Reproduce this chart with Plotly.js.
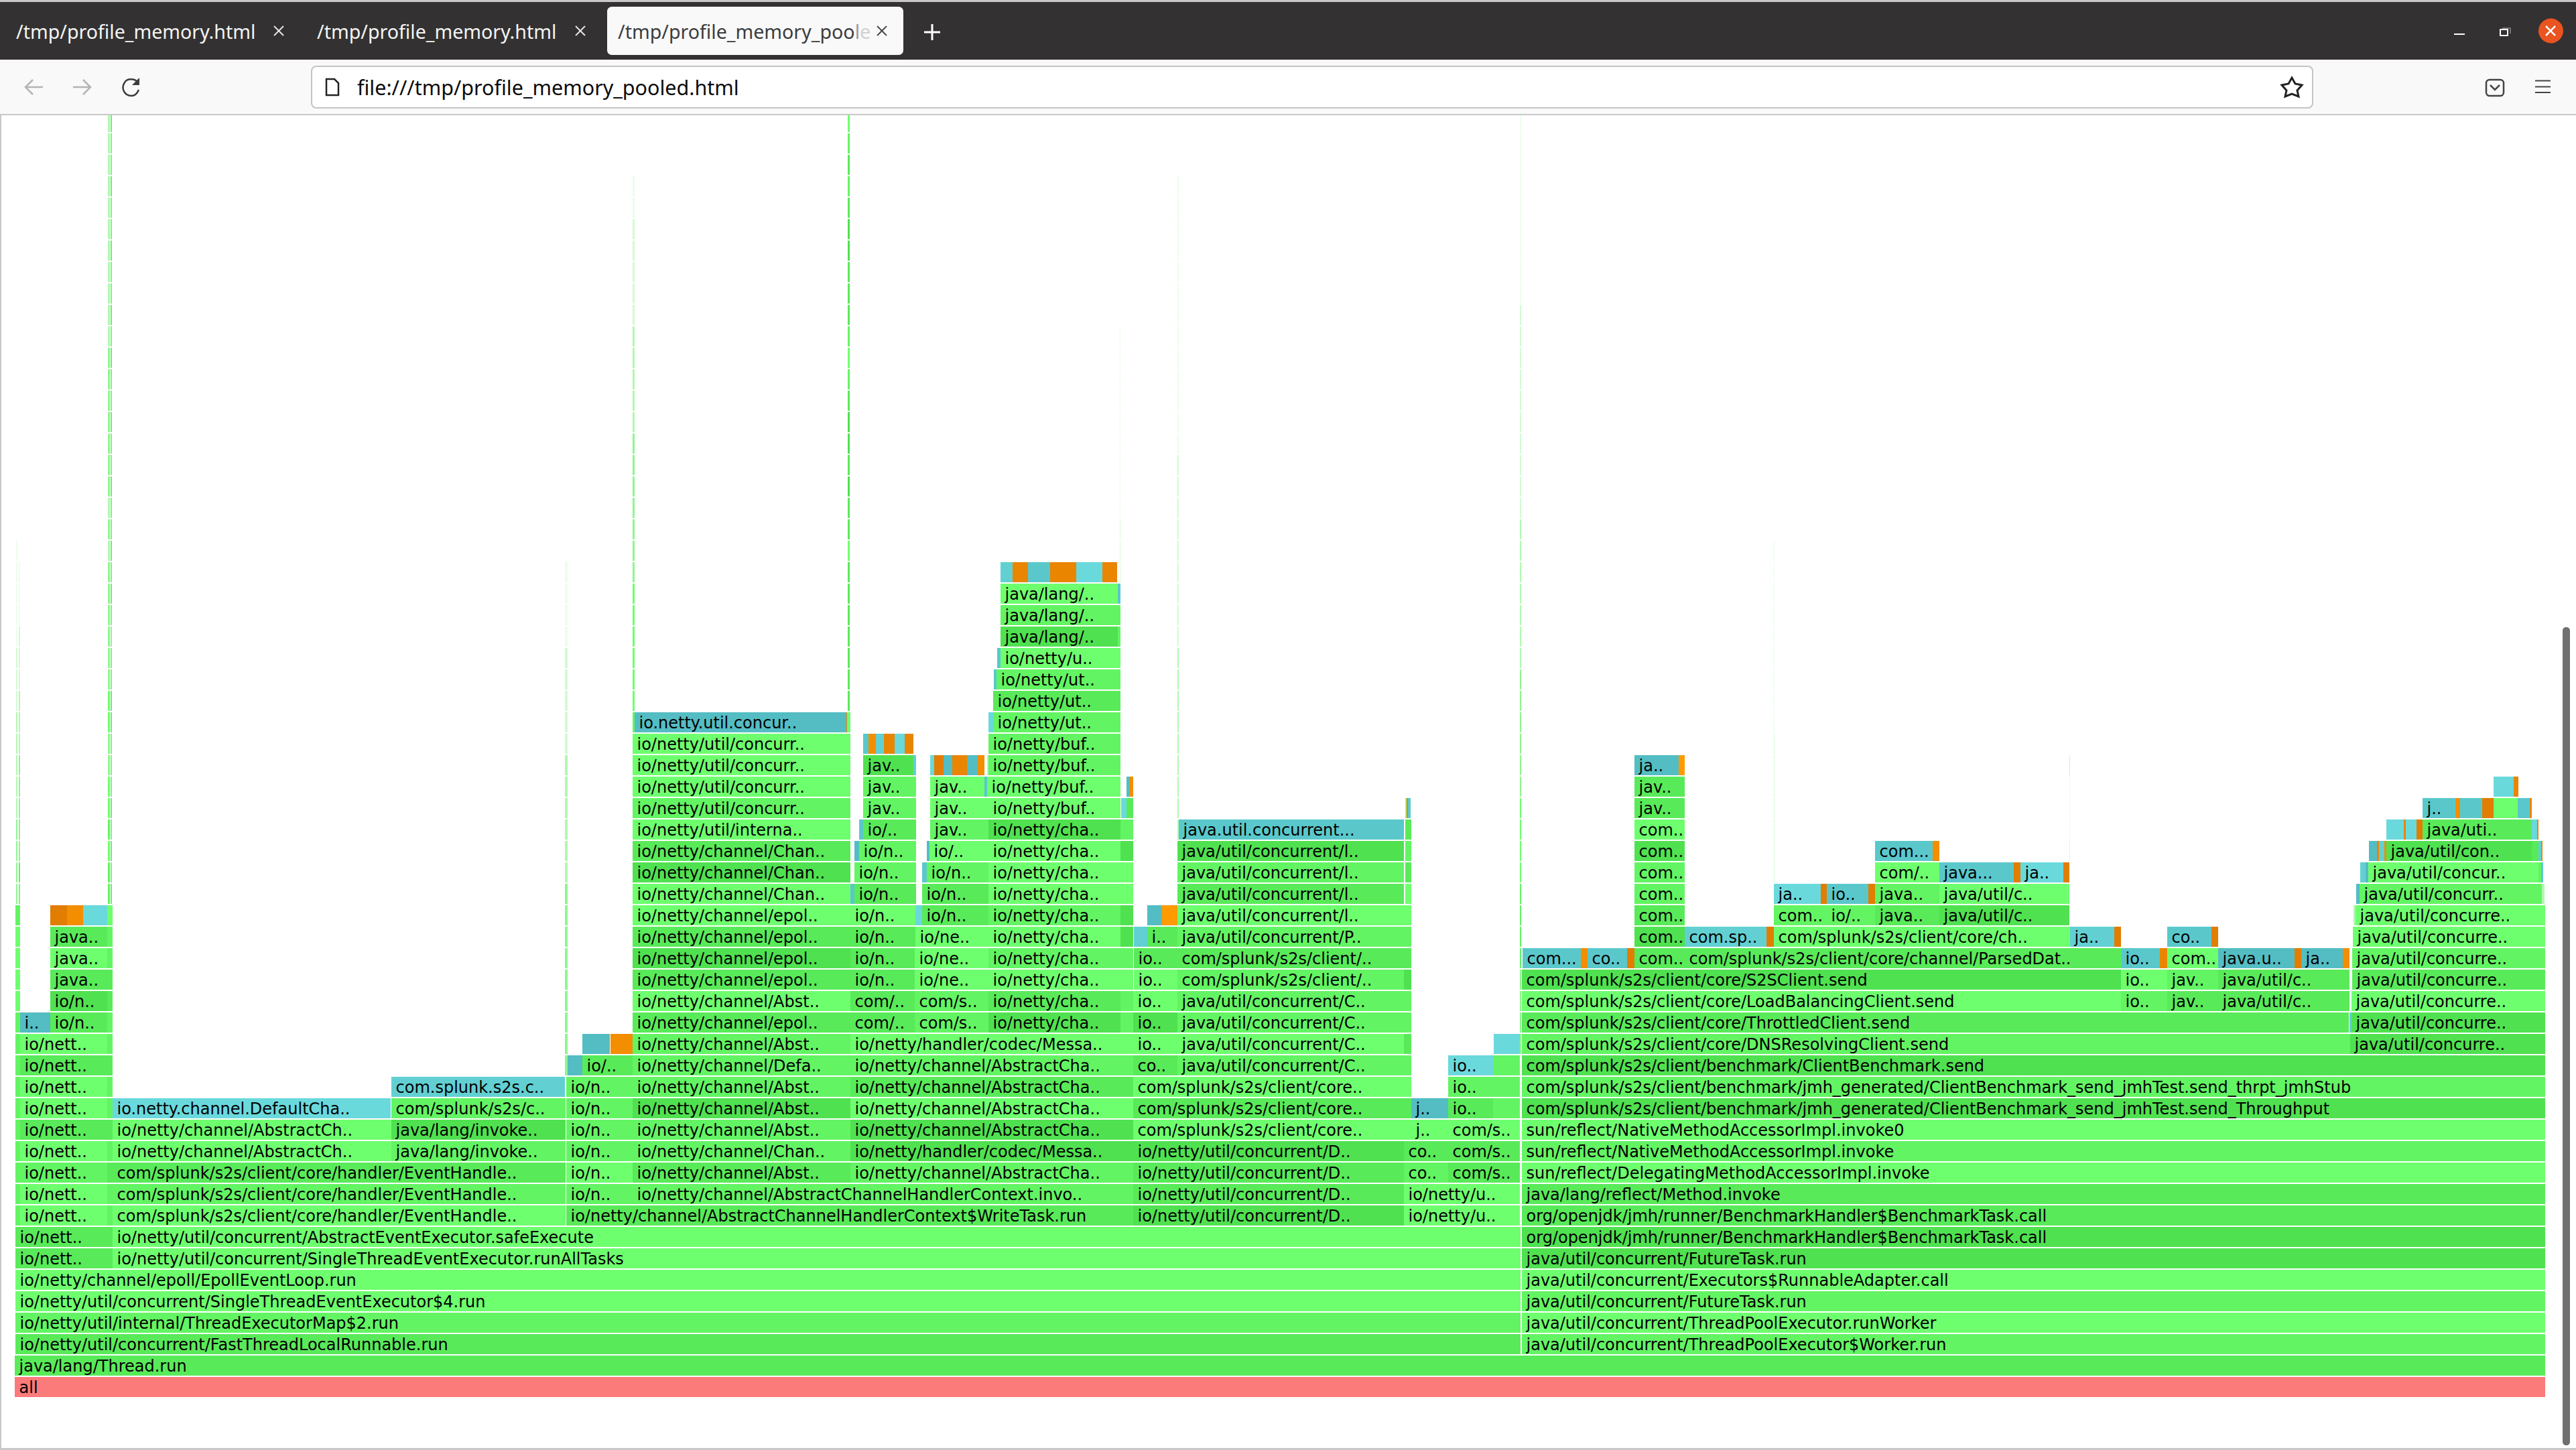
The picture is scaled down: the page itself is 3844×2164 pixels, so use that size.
<!DOCTYPE html>
<html>
<head>
<meta charset="utf-8">
<title>profile_memory_pooled</title>
<script src="https://cdn.plot.ly/plotly-3.0.1.min.js"></script>
<style>html,body{margin:0;padding:0;background:#fff;overflow:hidden}#chart{width:3844px;height:2164px}</style>
</head>
<body>
<div id="chart"></div>
<script>
// Flame-graph frames per stack depth: [first sample, end sample, method label, frame class + shade]
const E = "com/splunk/s2s/client/core/handler/EventHandle..";
const D = "io/netty/util/concurrent/D..";
const CHA = "io/netty/channel/AbstractCha..";
const CORE = "com/splunk/s2s/client/core..";
const JC = "java/util/concurrent/C..";
const JL = "java/util/concurrent/l..";
const JCR = "java/util/concurre..";
const NETT = "io/nett..";
const depth0 = [[22,3798,"all","r"]];
const depth1 = [[22,3798,"java/lang/Thread.run","g1"]];
const depth2 = [[23,2269,"io/netty/util/concurrent/FastThreadLocalRunnable.run","g1"],[2271,3798,"java/util/concurrent/ThreadPoolExecutor$Worker.run","g2"]];
const depth3 = [[23,2269,"io/netty/util/internal/ThreadExecutorMap$2.run","g2"],[2271,3798,"java/util/concurrent/ThreadPoolExecutor.runWorker","g3"]];
const depth4 = [[23,2269,"io/netty/util/concurrent/SingleThreadEventExecutor$4.run","g3"],[2271,3798,"java/util/concurrent/FutureTask.run","g2"]];
const depth5 = [[23,2269,"io/netty/channel/epoll/EpollEventLoop.run","g3"],[2271,3798,"java/util/concurrent/Executors$RunnableAdapter.call","g3"]];
const depth6 = [[23,160,NETT,"g1"],[160,168,"","g1"],[168,2269,"io/netty/util/concurrent/SingleThreadEventExecutor.runAllTasks","g3"],[2271,3798,"java/util/concurrent/FutureTask.run","g0"]];
const depth7 = [[23,160,NETT,"g1"],[160,168,"","g1"],[168,2269,"io/netty/util/concurrent/AbstractEventExecutor.safeExecute","g3"],[2271,3798,"org/openjdk/jmh/runner/BenchmarkHandler$BenchmarkTask.call","g0"]];
const depth8 = [[30,160,NETT,"g3"],[168,844,E,"g3"],[845,1691,"io/netty/channel/AbstractChannelHandlerContext$WriteTask.run","g1"],[1691,2095,D,"g0"],[2095,2268,"io/netty/u..","g3"],[2271,3798,"org/openjdk/jmh/runner/BenchmarkHandler$BenchmarkTask.call","g1"]];
const depth9 = [[30,160,NETT,"g3"],[168,844,E,"g2"],[845,944,"io/n..","g2"],[944,1691,"io/netty/channel/AbstractChannelHandlerContext.invo..","g2"],[1691,2095,D,"g1"],[2095,2268,"io/netty/u..","g3"],[2271,3798,"java/lang/reflect/Method.invoke","g1"]];
const depth10 = [[30,160,NETT,"g2"],[168,844,E,"g1"],[845,944,"io/n..","g3"],[944,1269,"io/netty/channel/Abst..","g1"],[1269,1691,CHA,"g2"],[1691,2095,D,"g1"],[2095,2161,"co..","g2"],[2161,2268,"com/s..","g1"],[2271,3798,"sun/reflect/DelegatingMethodAccessorImpl.invoke","g3"]];
const depth11 = [[30,160,NETT,"g3"],[168,584,"io/netty/channel/AbstractCh..","g3"],[584,844,"java/lang/invoke..","g2"],[845,944,"io/n..","g2"],[944,1269,"io/netty/channel/Chan..","g2"],[1269,1691,"io/netty/handler/codec/Messa..","g0"],[1691,2095,D,"g0"],[2095,2161,"co..","g1"],[2161,2268,"com/s..","g1"],[2271,3798,"sun/reflect/NativeMethodAccessorImpl.invoke","g2"]];
const depth12 = [[30,160,NETT,"g1"],[168,584,"io/netty/channel/AbstractCh..","g3"],[584,844,"java/lang/invoke..","g0"],[845,944,"io/n..","g2"],[944,1269,"io/netty/channel/Abst..","g2"],[1269,1691,CHA,"g0"],[1691,2106,CORE,"g3"],[2106,2161,"j..","g3"],[2161,2268,"com/s..","g3"],[2271,3798,"sun/reflect/NativeMethodAccessorImpl.invoke0","g3"]];
const depth13 = [[30,160,NETT,"g3"],[168,583,"io.netty.channel.DefaultCha..","b3"],[584,844,"com/splunk/s2s/c..","g2"],[845,944,"io/n..","g2"],[944,1269,"io/netty/channel/Abst..","g0"],[1269,1691,CHA,"g3"],[1691,2106,CORE,"g1"],[2106,2161,"j..","b0"],[2161,2228,"io..","g1"],[2228,2268,"","g2"],[2271,3798,"com/splunk/s2s/client/benchmark/jmh_generated/ClientBenchmark_send_jmhTest.send_Throughput","g0"]];
const depth14 = [[30,160,NETT,"g3"],[584,843,"com.splunk.s2s.c..","b2"],[845,944,"io/n..","g2"],[944,1269,"io/netty/channel/Abst..","g2"],[1269,1691,CHA,"g1"],[1691,2106,CORE,"g3"],[2161,2228,"io..","g2"],[2228,2268,"","g2"],[2271,3798,"com/splunk/s2s/client/benchmark/jmh_generated/ClientBenchmark_send_jmhTest.send_thrpt_jmhStub","g2"]];
const depth15 = [[30,160,NETT,"g1"],[847,869,"","b0"],[869,944,"io/..","g1"],[944,1269,"io/netty/channel/Defa..","g2"],[1269,1691,CHA,"g2"],[1691,1757,"co..","g1"],[1757,2106,JC,"g2"],[2161,2228,"io..","b3"],[2228,2268,"","g2"],[2271,3798,"com/splunk/s2s/client/benchmark/ClientBenchmark.send","g0"]];
const depth16 = [[30,160,NETT,"g3"],[869,910,"","b0"],[911,944,"","o2"],[944,1269,"io/netty/channel/Abst..","g2"],[1269,1691,"io/netty/handler/codec/Messa..","g3"],[1691,1757,"io..","g3"],[1757,2095,JC,"g3"],[2095,2106,"","g1"],[2229,2268,"","b3"],[2271,3507,"com/splunk/s2s/client/core/DNSResolvingClient.send","g2"],[3507,3798,JCR,"g0"]];
const depth17 = [[30,75,"i..","b0"],[75,160,"io/n..","g1"],[944,1269,"io/netty/channel/epol..","g1"],[1269,1365,"com/..","g1"],[1365,1475,"com/s..","g2"],[1475,1672,"io/netty/cha..","g0"],[1672,1691,"","g2"],[1691,1757,"io..","g0"],[1757,2106,JC,"g2"],[2271,3505,"com/splunk/s2s/client/core/ThrottledClient.send","g1"],[3506,3509,"","b2"],[3509,3798,JCR,"g0"]];
const depth18 = [[75,160,"io/n..","g0"],[944,1269,"io/netty/channel/Abst..","g3"],[1269,1365,"com/..","g1"],[1365,1475,"com/s..","g2"],[1475,1672,"io/netty/cha..","g1"],[1672,1691,"","g2"],[1691,1757,"io..","g3"],[1757,2106,JC,"g2"],[2271,3165,"com/splunk/s2s/client/core/LoadBalancingClient.send","g3"],[3165,3234,"io..","g2"],[3234,3310,"jav..","g1"],[3310,3506,"java/util/c..","g1"],[3509,3798,JCR,"g3"]];
const depth19 = [[75,160,"java..","g1"],[944,1269,"io/netty/channel/epol..","g1"],[1269,1365,"io/n..","g1"],[1365,1475,"io/ne..","g3"],[1475,1691,"io/netty/cha..","g3"],[1692,1757,"io..","g3"],[1757,2095,"com/splunk/s2s/client/..","g2"],[2095,2106,"","g0"],[2271,3165,"com/splunk/s2s/client/core/S2SClient.send","g0"],[3165,3234,"io..","g3"],[3234,3310,"jav..","g2"],[3310,3506,"java/util/c..","g1"],[3510,3798,JCR,"g1"]];
const depth20 = [[75,160,"java..","g3"],[944,1269,"io/netty/channel/epol..","g0"],[1269,1365,"io/n..","g1"],[1365,1475,"io/ne..","g3"],[1475,1691,"io/netty/cha..","g2"],[1692,1757,"io..","g1"],[1757,2106,"com/splunk/s2s/client/..","g1"],[2272,2359,"com...","b1"],[2359,2369,"","o2"],[2369,2428,"co..","b1"],[2428,2439,"","o0"],[2439,2514,"com..","g1"],[2514,3165,"com/splunk/s2s/client/core/channel/ParsedDat..","g1"],[3165,3223,"io..","b1"],[3223,3234,"","o1"],[3234,3310,"com..","g3"],[3310,3424,"java.u..","b0"],[3424,3434,"","o0"],[3434,3496,"ja..","b0"],[3496,3506,"","o2"],[3510,3798,JCR,"g2"]];
const depth21 = [[75,160,"java..","g1"],[944,1269,"io/netty/channel/epol..","g1"],[1269,1366,"io/n..","g1"],[1366,1475,"io/ne..","g3"],[1475,1672,"io/netty/cha..","g3"],[1672,1691,"","g0"],[1692,1712,"","b2"],[1712,1757,"i..","g1"],[1757,2106,"java/util/concurrent/P..","g2"],[2439,2514,"com..","g0"],[2514,2636,"com.sp..","b2"],[2636,2647,"","o0"],[2647,3089,"com/splunk/s2s/client/core/ch..","g3"],[3089,3155,"ja..","b2"],[3155,3165,"","o0"],[3234,3300,"co..","b1"],[3300,3310,"","o0"],[3511,3798,JCR,"g3"]];
const depth22 = [[75,100,"","o0"],[100,124,"","o2"],[124,160,"","b3"],[944,1269,"io/netty/channel/epol..","g3"],[1269,1366,"io/n..","g3"],[1366,1376,"","b3"],[1376,1475,"io/n..","g1"],[1475,1672,"io/netty/cha..","g2"],[1672,1691,"","g0"],[1712,1734,"","b0"],[1734,1757,"","o3"],[1757,2106,JL,"g3"],[2439,2514,"com..","g1"],[2647,2726,"com..","g2"],[2726,2798,"io/..","g2"],[2798,2894,"java..","g1"],[2894,3088,"java/util/c..","g0"],[3512,3515,"","p1"],[3515,3798,JCR,"g3"]];
const depth23 = [[944,1269,"io/netty/channel/Chan..","g3"],[1269,1275,"","b1"],[1275,1367,"io/n..","g1"],[1376,1475,"io/n..","g1"],[1475,1691,"io/netty/cha..","g3"],[1757,2095,JL,"g1"],[2097,2106,"","g3"],[2439,2514,"com..","g2"],[2647,2717,"ja..","b3"],[2717,2726,"","o0"],[2726,2788,"io..","b1"],[2788,2798,"","o0"],[2798,2894,"java..","g2"],[2894,3088,"java/util/c..","g3"],[3516,3521,"","b0"],[3521,3793,"java/util/concurr..","g2"],[3793,3797,"","p1"]];
const depth24 = [[944,1269,"io/netty/channel/Chan..","g0"],[1275,1367,"io/n..","g2"],[1376,1383,"","b1"],[1383,1475,"io/n..","g2"],[1475,1691,"io/netty/cha..","g3"],[1757,2095,JL,"g2"],[2097,2106,"","g1"],[2439,2514,"com..","g2"],[2798,2894,"com/..","g3"],[2894,3005,"java...","b1"],[3005,3015,"","o0"],[3015,3079,"ja..","b3"],[3079,3088,"","o0"],[3522,3530,"","b2"],[3530,3534,"","b0"],[3534,3788,"java/util/concur..","g3"],[3788,3792,"","g2"],[3792,3795,"","b1"]];
const depth25 = [[944,1269,"io/netty/channel/Chan..","g1"],[1275,1282,"","b0"],[1282,1367,"io/n..","g2"],[1383,1387,"","b0"],[1387,1475,"io/..","g3"],[1475,1672,"io/netty/cha..","g3"],[1672,1691,"","g0"],[1757,2095,JL,"g0"],[2097,2106,"","g2"],[2439,2514,"com..","g0"],[2798,2884,"com...","b1"],[2884,2894,"","o2"],[3535,3547,"","b0"],[3547,3550,"","o1"],[3550,3558,"","b2"],[3558,3561,"","o2"],[3561,3778,"java/util/con..","g0"],[3778,3788,"","g1"],[3788,3792,"","b2"],[3792,3794,"","o1"]];
const depth26 = [[944,1269,"io/netty/util/interna..","g3"],[1282,1288,"","b1"],[1288,1367,"io/..","g1"],[1388,1475,"jav..","g2"],[1475,1672,"io/netty/cha..","g0"],[1672,1691,"","g2"],[1759,2094,"java.util.concurrent...","b1"],[2094,2095,"","o3"],[2097,2106,"","g1"],[2439,2514,"com..","g3"],[3561,3587,"","b3"],[3587,3590,"","o1"],[3590,3606,"","b3"],[3606,3615,"","o0"],[3615,3757,"java/uti..","g1"],[3757,3778,"","g1"],[3778,3786,"","b3"],[3786,3788,"","o1"]];
const depth27 = [[944,1269,"io/netty/util/concurr..","g2"],[1288,1367,"jav..","g2"],[1388,1475,"jav..","g3"],[1475,1672,"io/netty/buf..","g3"],[1673,1681,"","b3"],[1681,1691,"","g1"],[2097,2099,"","p0"],[2099,2101,"","o1"],[2101,2105,"","b1"],[2439,2514,"jav..","g1"],[3615,3664,"j..","b1"],[3664,3671,"","o2"],[3671,3704,"","b1"],[3704,3721,"","o0"],[3721,3757,"","g3"],[3757,3775,"","b1"],[3775,3778,"","o1"]];
const depth28 = [[944,1269,"io/netty/util/concurr..","g3"],[1288,1367,"jav..","g2"],[1388,1469,"jav..","g3"],[1469,1473,"","b1"],[1473,1672,"io/netty/buf..","g3"],[1681,1686,"","b0"],[1686,1691,"","o2"],[2439,2514,"jav..","g1"],[3721,3751,"","b3"],[3751,3758,"","o1"]];
const depth29 = [[944,1269,"io/netty/util/concurr..","g3"],[1288,1363,"jav..","g0"],[1363,1367,"","b2"],[1388,1394,"","b3"],[1394,1408,"","o0"],[1408,1421,"","b0"],[1421,1443,"","o1"],[1443,1459,"","b0"],[1459,1469,"","o2"],[1473,1475,"","p1"],[1475,1672,"io/netty/buf..","g2"],[2439,2505,"ja..","b0"],[2505,2514,"","o3"]];
const depth30 = [[944,1269,"io/netty/util/concurr..","g3"],[1288,1296,"","b1"],[1296,1307,"","o2"],[1307,1319,"","b2"],[1319,1335,"","o1"],[1335,1350,"","b3"],[1350,1363,"","o1"],[1475,1672,"io/netty/buf..","g2"]];
const depth31 = [[944,947,"","g2"],[947,1263,"io.netty.util.concur..","b0"],[1263,1264,"","o1"],[1264,1269,"","g3"],[1475,1482,"","b3"],[1482,1672,"io/netty/ut..","g2"]];
const depth32 = [[1482,1672,"io/netty/ut..","g1"]];
const depth33 = [[1483,1487,"","b1"],[1487,1672,"io/netty/ut..","g2"]];
const depth34 = [[1488,1493,"","b1"],[1493,1672,"io/netty/u..","g3"]];
const depth35 = [[1493,1668,"java/lang/..","g0"],[1668,1672,"","g2"]];
const depth36 = [[1493,1672,"java/lang/..","g2"]];
const depth37 = [[1493,1668,"java/lang/..","g3"],[1668,1672,"","b1"]];
const depth38 = [[1493,1511,"","b2"],[1511,1534,"","o1"],[1534,1567,"","b1"],[1567,1606,"","o1"],[1606,1645,"","b3"],[1645,1667,"","o1"]];
const depths = [depth0,depth1,depth2,depth3,depth4,depth5,depth6,depth7,depth8,depth9,depth10,depth11,depth12,depth13,depth14,depth15,depth16,depth17,depth18,depth19,depth20,depth21,depth22,depth23,depth24,depth25,depth26,depth27,depth28,depth29,depth30,depth31,depth32,depth33,depth34,depth35,depth36,depth37,depth38];

// Narrow unlabelled stacks: [first sample, end sample, lowest depth, frame shade for each depth upward]
const narrowStacks = [
 [23,30,8,"g2 g2 g2 g2 g2 g2 g2 g2 g2"],
 [23,30,17,"g2 g3 g3 g3 g3 g2"],
 [24,26,23,"p0 p0 p0 p0 p1 p1 p1 p1 p1 p2 p2 p2 p3 p3 p3 p3 p3"],
 [28,30,23,"g3 g2 p0 p0 p0 p0 p0 p1 p1 p1 p2 p2 p2 p3 p3 p3"],
 [160,168,8,"g2 g2 g1 g2 g1 g2 g2 g1 g2 g2 g1 g1 g2 g2 g3"],
 [161,164,23,"g2 g2 g3 g2 g3 g3 p0 p0 g3 g3 p0 p0 p0 p0 p0 p0 p1 p0 p1 p0 p0 p0 p0 p0 p0 p0 p1 p1 p1 p1 p1 p1 p1 p1 p1 p1 p1"],
 [165,167,23,"g2 g3 g2 g3 g2 g3 g3 g3 g2 g2 g3 g3 p0 g3 g2 g3 g2 g3 g3 g2 g3 g3 g2 g3 g3 g2 g3 g2 g3 g3 g2 g3 g3 g2 g3 g3 g2"],
 [843,847,15,"p0 p0 p0 p0 p0 p0 p0 p0 p0 p1 p1 p1 p1 p1 p1 p2 p2 p2 p2 p2 p3 p3 p3 p3"],
 [944,947,32,"g3 g3 g3 g3 g3 g3 p0 p0 p0 p0 p0 p0 p0 p1 p1 p1 p1 p1 p2 p2 p2 p2 p2 p3 p3"],
 [1265,1268,32,"g1 g1 g1 g1 g1 g1 g1 g3 g1 g1 g0 g1 g0 g0 g1 g2 g3 g2 g1 g1 g1 g0 g0 g1 g2 g1 g2 g3"],
 [1671,1672,38,"p2 p2 p2 p3 p3 p3 p3 p3 p3 p3 p3 p3"],
 [1757,1759,26,"p1 p1 p1 p1 p1 p1 p1 p1 p1 p2 p2 p2 p2 p2 p2 p2 p2 p2 p3 p3 p3 p3 p3 p3 p3 p3 p3 p3 p3 p3 p3"],
 [2268,2270,16,"p0 p0 p0 p0 g2 g2 g2 g2 g3 g3 g3 g3 p0 p0 p0 p0 p0 p0 p1 p1 p1 p1 p1 p1 p1 p2 p2 p2 p2 p2 p2 p2 p2 p2 p2 p3 p3 p3 p3 p3 p3 p3 p3 p3"],
 [2647,2648,24,"p2 p2 p2 p2 p2 p2 p2 p3 p3 p3 p3 p3 p3 p3 p3 p3"],
 [3088,3089,25,"p2 p3 p3 p3 q"]
];

const palette = {
  r:"#fb7a7a",
  g0:"#50e150", g1:"#59ea59", g2:"#63f463", g3:"#6eff6e",
  b0:"#53bdc3", b1:"#5ac8cb", b2:"#62d0d2", b3:"#6ad9dc",
  o0:"#e17d00", o1:"#ea8500", o2:"#f38e00", o3:"#ff9b00",
  p0:"#8ff58f", p1:"#b0f8b0", p2:"#d2fbd2", p3:"#ecfdec", q:"#cfeef0"
};

// flatten
const fx=[],fb=[],fy=[],fc=[],tx=[],ty=[],tt=[];
depths.forEach((frames,d)=>frames.forEach(f=>{
  fb.push(f[0]);fx.push(f[1]-f[0]);fy.push(d);fc.push(palette[f[3]]);
  if(f[2]){tx.push(f[0]+6.5);ty.push(d-0.09);tt.push(f[2]);}
}));
narrowStacks.forEach(s=>s[3].split(" ").forEach((c,i)=>{
  fb.push(s[0]);fx.push(s[1]-s[0]);fy.push(s[2]+i);fc.push(palette[c]);
}));

const W=3844,H=2164;
const px=v=>v/W, py=v=>1-v/H;
const P=(pts,close)=>pts.map((p,i)=>(i?"L":"M")+px(p[0])+","+py(p[1])).join(" ")+(close?" Z":"");
function rect(x0,y0,x1,y1,fill){return {type:"rect",xref:"paper",yref:"paper",x0:px(x0),x1:px(x1),y0:py(y1),y1:py(y0),fillcolor:fill,line:{width:0},layer:"above"};}
function path(d,color,lw,fill){return {type:"path",xref:"paper",yref:"paper",path:d,line:{color:color,width:lw},fillcolor:fill||"rgba(0,0,0,0)",layer:"above"};}
function round(x0,y0,x1,y1,r){
  const C=(ax,ay,bx,by,cx,cy)=>"C"+px(ax)+","+py(ay)+" "+px(bx)+","+py(by)+" "+px(cx)+","+py(cy);
  const k=r*0.45;
  return "M"+px(x0+r)+","+py(y0)+" L"+px(x1-r)+","+py(y0)+" "+C(x1-k,y0,x1,y0+k,x1,y0+r)+" L"+px(x1)+","+py(y1-r)+" "+C(x1,y1-k,x1-k,y1,x1-r,y1)+" L"+px(x0+r)+","+py(y1)+" "+C(x0+k,y1,x0,y1-k,x0,y1-r)+" L"+px(x0)+","+py(y0+r)+" "+C(x0,y0+k,x0+k,y0,x0+r,y0)+" Z";
}
function cross(cx,cy,r,color,lw){return [path(P([[cx-r,cy-r],[cx+r,cy+r]]),color,lw),path(P([[cx-r,cy+r],[cx+r,cy-r]]),color,lw)];}
function note(x,y,text,size,color,family){return {xref:"paper",yref:"paper",x:px(x),y:py(y),text:text,showarrow:false,xanchor:"left",yanchor:"middle",borderpad:0,font:{size:size,color:color,family:family||"Noto Sans"}};}

const star=[];
[[3420,116],[3425,125],[3435,127],[3428,135],[3430,144],[3420,140],[3410,144],[3412,135],[3405,127],[3415,125]].forEach(p=>star.push(p));

const shapes=[
 rect(0,0,W,3,"#c8c8c8"),
 rect(0,3,W,89,"#333131"),
 rect(0,89,W,170,"#f9f9fa"),
 rect(0,170,W,172,"#c8c8c8"),
 rect(0,172,2,H,"#c8c8c8"),
 rect(0,2161,W,H,"#c8c8c8"),
 path(round(906,10,1348,82,7),"#f9f9fa",0,"#f9f9fa"),
 ...cross(416,46,7,"#e6e6e6",2),
 ...cross(866,46,7,"#e6e6e6",2),
 ...cross(1316,46,7,"#4a4a4a",2),
 path(P([[1379,48],[1403,48]]),"#ffffff",3),
 path(P([[1391,36],[1391,60]]),"#ffffff",3),
 // toolbar
 path(round(465,99,3451,161,7),"#c4c4c4",2,"#ffffff"),
 path(P([[38,130],[64,130]]),"#b4b4b4",2.5),
 path(P([[49,119],[38,130],[49,141]]),"#b4b4b4",2.5),
 path(P([[109,130],[135,130]]),"#b4b4b4",2.5),
 path(P([[124,119],[135,130],[124,141]]),"#b4b4b4",2.5),
 path("M"+px(206)+","+py(124)+" C"+px(203)+","+py(117)+" "+px(190)+","+py(116)+" "+px(186)+","+py(123)+" C"+px(180)+","+py(132)+" "+px(186)+","+py(143)+" "+px(196)+","+py(143)+" C"+px(202)+","+py(143)+" "+px(205)+","+py(139)+" "+px(207)+","+py(134),"#3c3c3c",2.5),
 path(P([[208,116],[208,127],[197,127]],true),"#3c3c3c",0,"#3c3c3c"),
 path(P([[487,118],[499,118],[505,124],[505,142],[487,142]],true),"#222222",2.5,"#ffffff"),
 path(P(star,true),"#222222",3,"#ffffff"),
 path(round(3710,119,3736,143,5),"#444444",2.5,"#f9f9fa"),
 path(P([[3716,127],[3723,134],[3730,127]]),"#444444",2.5),
 rect(3783,119.5,3806,121.5,"#444444"),rect(3783,128.5,3806,130.5,"#444444"),rect(3783,137,3806,139,"#444444"),
 // window controls
 rect(3662,50,3678,52,"#ffffff"),
 path(P([[3734,42],[3746,42],[3746,50]]),"#8a8a8a",1.5),
 path(P([[3731,44],[3742,44],[3742,53],[3731,53]],true),"#ffffff",2),
 {type:"circle",xref:"paper",yref:"paper",x0:px(3788),x1:px(3825),y0:py(64.5),y1:py(27.5),fillcolor:"#e95420",line:{width:0},layer:"above"},
 ...cross(3806,46,7,"#ffffff",2.5),
 // scrollbar
 path(round(3824,936,3835,2157,5),"#707070",0,"#707070")
];
const annotations=[
 note(23,46,"/tmp/profile_memory.html",28.6,"#f4f4f4"),
 note(472,46,"/tmp/profile_memory.html",28.6,"#f4f4f4"),
 note(921,46,'/tmp/profile_memory_poo<span style="color:#9a9a9a">l</span><span style="color:#d0d0d0">e</span>',28.6,"#3c3c3c"),
 note(532,130,"file:///tmp/profile_memory_pooled.html",30.5,"#0c0c0d")
];

Plotly.newPlot("chart",[
 {type:"bar",orientation:"h",x:fx,y:fy,base:fb,width:0.9375,marker:{color:fc,line:{width:0}},hoverinfo:"skip",showlegend:false},
 {type:"scatter",mode:"text",x:tx,y:ty,text:tt,textposition:"middle right",textfont:{family:"DejaVu Sans",size:24,color:"#000000"},hoverinfo:"skip",showlegend:false}
],{
 width:W,height:H,margin:{l:0,r:0,t:0,b:0,pad:0},paper_bgcolor:"#ffffff",plot_bgcolor:"#ffffff",
 barmode:"overlay",showlegend:false,
 xaxis:{range:[0,W],visible:false,fixedrange:true},
 yaxis:{range:[-2.9375,59.34375],domain:[0,1-171/H],visible:false,fixedrange:true},
 shapes:shapes,annotations:annotations
},{displayModeBar:false,staticPlot:true});
</script>
</body>
</html>
